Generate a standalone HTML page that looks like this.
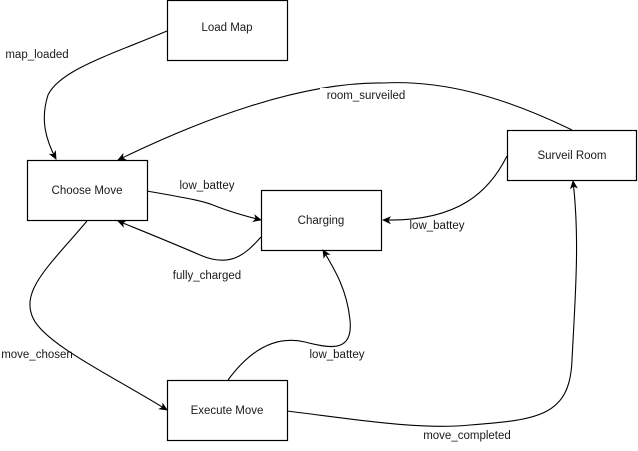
<!DOCTYPE html>
<html><head><style>
body{margin:0;background:#fff;width:638px;height:451px;overflow:hidden}
svg{display:block}
text{font-family:"Liberation Sans",Arial,sans-serif;font-size:11.5px;fill:#1a1a1a}
</style></head><body>
<svg width="638" height="451" viewBox="0 0 638 451">
<defs><marker id="a" markerWidth="10" markerHeight="10" refX="8" refY="5" orient="auto" markerUnits="userSpaceOnUse">
<path d="M0,1 L9,5 L0,9 L2.5,5 Z" fill="#000"/></marker></defs>
<g fill="#fff" stroke="#000" stroke-width="1.2">
<rect x="167.5" y="0.5" width="120" height="60"/>
<rect x="27.5" y="160.5" width="120" height="60"/>
<rect x="261.5" y="190.5" width="120" height="60"/>
<rect x="507.5" y="130.5" width="129" height="50"/>
<rect x="167.5" y="380.5" width="120" height="60"/>
</g>
<g fill="none" stroke="#000" stroke-width="1.1" marker-end="url(#a)">
<path d="M167,31 C110,55 60,70 48,95 C40,120 46,140 56,159"/>
<path d="M572,130 C500,95 440,80 383,83 C300,82 200,120 118,160"/>
<path d="M147,191 C180,197 200,200 213,205 C230,212 245,216 261,220"/>
<path d="M261,237 C245,255 230,268 200,255 C170,242 140,230 118,221"/>
<path d="M507,156 C490,190 460,222 383,220"/>
<path d="M87,221 C50,265 20,290 33,318 C45,345 120,380 167,410"/>
<path d="M228,380 C250,350 275,335 305,342 C335,350 353,350 350,320 C347,290 335,270 323,250"/>
<path d="M287,411 C360,420 420,430 470,425 C540,420 570,415 572,360 C575,300 580,240 573,181"/>
</g>
<g text-anchor="middle">
<rect x="320" y="88" width="92" height="14" fill="#fff"/>
<text x="37" y="58">map_loaded</text>
<text x="227" y="31">Load Map</text>
<text x="87" y="194">Choose Move</text>
<text x="321" y="224">Charging</text>
<text x="572" y="159">Surveil Room</text>
<text x="227" y="414">Execute Move</text>
<text x="366" y="99">room_surveiled</text>
<text x="207" y="189">low_battey</text>
<text x="207" y="279">fully_charged</text>
<text x="437" y="229">low_battey</text>
<text x="37" y="358">move_chosen</text>
<text x="337" y="358">low_battey</text>
<text x="467" y="439">move_completed</text>
</g>
</svg>
</body></html>
